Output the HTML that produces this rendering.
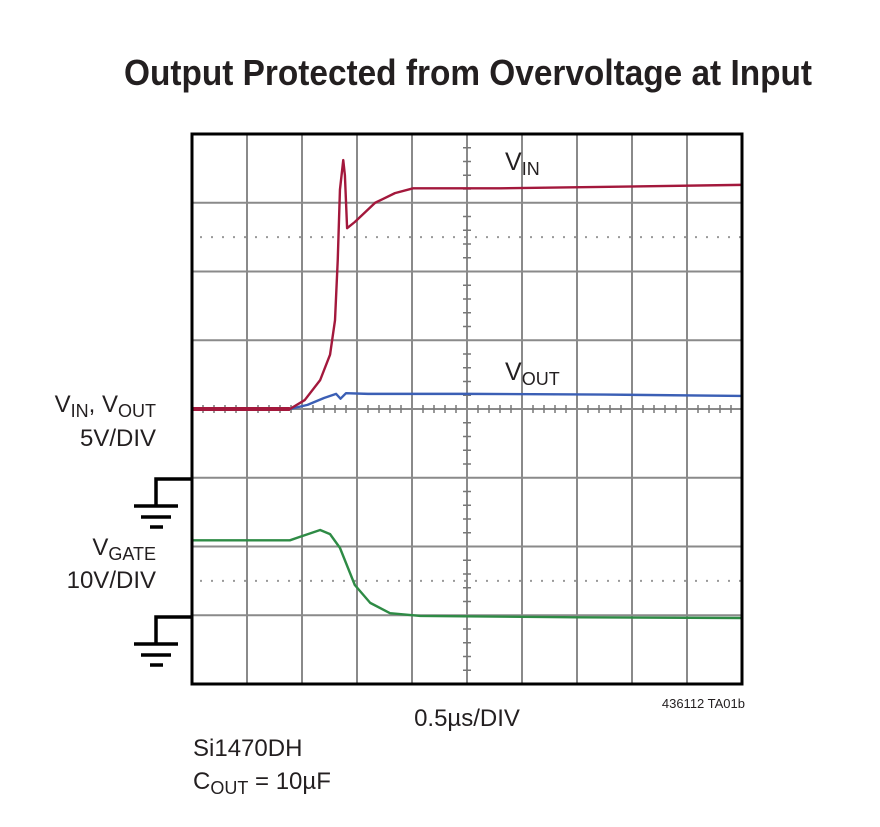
<!DOCTYPE html>
<html><head><meta charset="utf-8"><style>
body{margin:0;background:#fff;}
svg text{font-family:"Liberation Sans Narrow","Liberation Sans",sans-serif;fill:#231f20;}
</style></head><body>
<svg id="c" width="880" height="822" viewBox="0 0 880 822" xmlns="http://www.w3.org/2000/svg">
<text x="468" y="85" text-anchor="middle" font-size="36" font-weight="bold" textLength="688" lengthAdjust="spacingAndGlyphs">Output Protected from Overvoltage at Input</text>
<g id="grid"></g>
<g id="traces"></g>
<rect x="192" y="134" width="550" height="550" fill="none" stroke="#000" stroke-width="3"/>
<text x="505" y="170" font-size="25">V<tspan font-size="18" dy="5">IN</tspan></text>
<text x="505" y="380" font-size="25">V<tspan font-size="18" dy="5">OUT</tspan></text>
<text x="156" y="412" text-anchor="end" font-size="24">V<tspan font-size="18" dy="5">IN</tspan><tspan dy="-5">, V</tspan><tspan font-size="18" dy="5">OUT</tspan></text>
<text x="156" y="446" text-anchor="end" font-size="24">5V/DIV</text>
<text x="156" y="555" text-anchor="end" font-size="24">V<tspan font-size="18" dy="5">GATE</tspan></text>
<text x="156" y="588" text-anchor="end" font-size="24">10V/DIV</text>
<g stroke="#000" stroke-width="3.5" fill="none">
<path d="M192 479 H156 V506"/><path d="M134 506 H178"/><path d="M141 517 H171"/><path d="M150 527 H163"/></g>
<g stroke="#000" stroke-width="3.5" fill="none">
<path d="M192 617 H156 V644"/><path d="M134 644 H178"/><path d="M141 655 H171"/><path d="M150 665 H163"/></g>
<text x="467" y="726" text-anchor="middle" font-size="24">0.5µs/DIV</text>
<text x="745" y="708" text-anchor="end" font-size="13">436112 TA01b</text>
<text x="193" y="756" font-size="24">Si1470DH</text>
<text x="193" y="789" font-size="24">C<tspan font-size="18" dy="5">OUT</tspan><tspan dy="-5"> = 10µF</tspan></text>
</svg>
<script>
// time in divisions, voltage in divisions above screen center
const vinT = [0,1.78,2.05,2.33,2.51,2.6,2.65,2.69,2.75,2.78,2.82,2.96,3.33,3.69,4.02,5.6,7.42,9.98];
const vinV = [0,0,0.13,0.42,0.79,1.29,2.17,3.19,3.62,3.4,2.63,2.72,3.0,3.14,3.21,3.21,3.23,3.26];
const voutT = [0,1.78,2.1,2.4,2.62,2.7,2.8,3.2,5,7.5,9.98];
const voutV = [0,0,0.06,0.16,0.22,0.15,0.23,0.22,0.22,0.21,0.19];
const gateT = [0,1.78,1.96,2.33,2.51,2.69,2.96,3.24,3.6,4.15,7,9.98];
const gateV = [-1.91,-1.91,-1.86,-1.76,-1.82,-2.02,-2.56,-2.82,-2.97,-3.01,-3.03,-3.04];
const X0=192,W=550,Y0=134,H=550,NX=10,NY=8;
const xs=t=>X0+t*W/NX;
const ys=v=>Y0+H/2-v*H/NY;
const NS='http://www.w3.org/2000/svg';
const grid=document.getElementById('grid');
function ln(x1,y1,x2,y2,st,sw,dash){const l=document.createElementNS(NS,'line');
l.setAttribute('x1',x1);l.setAttribute('y1',y1);l.setAttribute('x2',x2);l.setAttribute('y2',y2);
l.setAttribute('stroke',st);l.setAttribute('stroke-width',sw);if(dash)l.setAttribute('stroke-dasharray',dash);


grid.appendChild(l);}
for(let i=1;i<NX;i++)ln(xs(i),Y0,xs(i),Y0+H,'#8a8a8a',2);
for(let j=1;j<NY;j++)ln(X0,Y0+j*H/NY,X0+W,Y0+j*H/NY,'#8a8a8a',2);
ln(X0+8,ys(2.5),X0+W,ys(2.5),'#999',2,'2 9');
ln(X0+8,ys(-2.5),X0+W,ys(-2.5),'#999',2,'2 9');
for(let k=1;k<NX*5;k++){if(k%5)ln(xs(k/5),ys(0)-4,xs(k/5),ys(0)+4,'#777',1.5);}
for(let k=1;k<NY*5;k++){if(k%5)ln(xs(5)-4,Y0+k*H/NY/5,xs(5)+4,Y0+k*H/NY/5,'#777',1.5);}
const tr=document.getElementById('traces');
function trace(T,V,col,name,w){const p=document.createElementNS(NS,'polyline');
p.setAttribute('points',T.map((t,i)=>xs(t)+','+ys(V[i])).join(' '));
p.setAttribute('fill','none');p.setAttribute('stroke',col);p.setAttribute('stroke-width',w||'2.4');
p.setAttribute('stroke-linejoin','round');


tr.appendChild(p);}
trace(gateT,gateV,'#2e8b45','vgate-trace');
trace(voutT,voutV,'#3b5fb5','vout-trace');
trace(vinT.slice(0,2),vinV.slice(0,2),'#a3183c','vin-baseline','4');
trace(vinT,vinV,'#a3183c','vin-trace');
</script>
</body></html>
